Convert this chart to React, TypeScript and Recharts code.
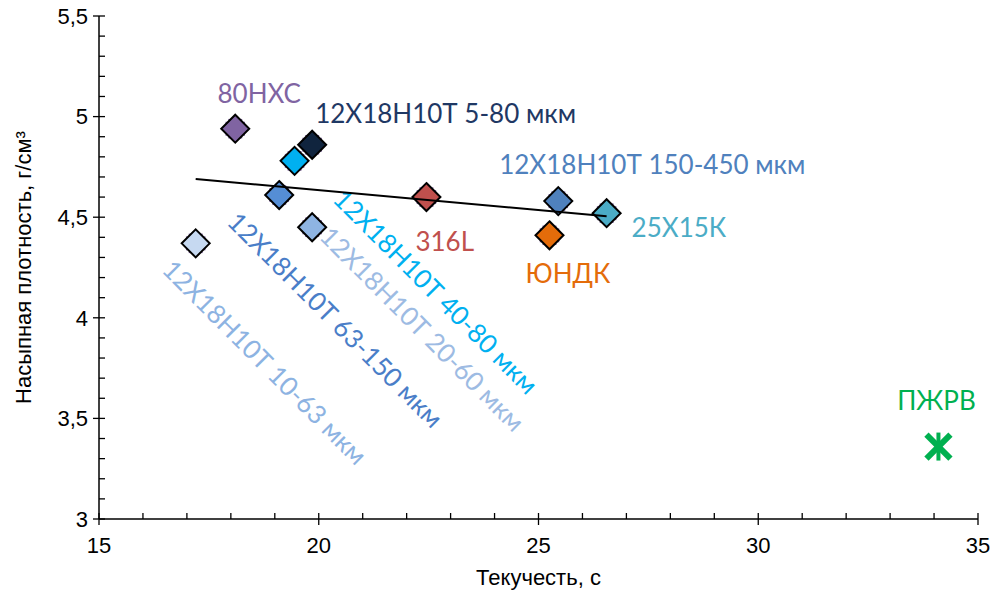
import { ScatterChart, Scatter, XAxis, YAxis } from "recharts";

// series, one point each
const seriesNames = [
  "80НХС",
  "12Х18Н10Т 5-80 мкм",
  "12Х18Н10Т 40-80 мкм",
  "12Х18Н10Т 63-150 мкм",
  "12Х18Н10Т 20-60 мкм",
  "12Х18Н10Т 10-63 мкм",
  "316L",
  "12Х18Н10Т 150-450 мкм",
  "ЮНДК",
  "25Х15К",
  "ПЖРВ",
];
const flowValues = [18.1, 19.85, 19.45, 19.1, 19.85, 17.2, 22.45, 25.45, 25.25, 26.55, 34.1];
const densityValues = [4.94, 4.86, 4.78, 4.61, 4.45, 4.37, 4.6, 4.58, 4.41, 4.52, 3.36];

// linear trend (over the diamonds)
const trendX = [17.2, 26.55];
const trendY = [4.69, 4.505];

const xTicks = [15, 16, 17, 18, 19, 20, 21, 22, 23, 24, 25, 26, 27, 28, 29, 30, 31, 32, 33, 34, 35];
const xMajor = [15, 20, 25, 30, 35];
const yTicks = [
  3, 3.1, 3.2, 3.3, 3.4, 3.5, 3.6, 3.7, 3.8, 3.9, 4, 4.1, 4.2, 4.3, 4.4, 4.5, 4.6, 4.7, 4.8, 4.9, 5, 5.1,
  5.2, 5.3, 5.4, 5.5,
];
const yMajor = [3, 3.5, 4, 4.5, 5, 5.5];

const markerColors = [
  "#8064A2", "#10243E", "#00B0F0", "#558ED5", "#8EB4E3", "#C6D9F1",
  "#C0504D", "#4F81BD", "#E46C0A", "#4BACC6", "#00B050",
];
const labelColors = [
  "#8064A2", "#1F3864", "#00B0F0", "#4A7EC8", "#9DBBE3", "#8DB3E2",
  "#C0504D", "#4F81BD", "#E46C0A", "#4BACC6", "#00B050",
];

// label placement relative to the point: dx, dy, anchor, rotation
const labelPlacement: Record<string, { dx: number; dy: number; anchor: string; rot: number }> = {
  "80НХС": { dx: 24, dy: -35, anchor: "middle", rot: 0 },
  "12Х18Н10Т 5-80 мкм": { dx: 3, dy: -31, anchor: "start", rot: 0 },
  "12Х18Н10Т 40-80 мкм": { dx: 141, dy: 131, anchor: "middle", rot: 45 },
  "12Х18Н10Т 63-150 мкм": { dx: 56, dy: 125, anchor: "middle", rot: 45 },
  "12Х18Н10Т 20-60 мкм": { dx: 110, dy: 102, anchor: "middle", rot: 45 },
  "12Х18Н10Т 10-63 мкм": { dx: 69, dy: 119, anchor: "middle", rot: 45 },
  "316L": { dx: -11, dy: 45, anchor: "start", rot: 0 },
  "12Х18Н10Т 150-450 мкм": { dx: 94, dy: -36, anchor: "middle", rot: 0 },
  "ЮНДК": { dx: -24, dy: 39, anchor: "start", rot: 0 },
  "25Х15К": { dx: 25, dy: 15, anchor: "start", rot: 0 },
  "ПЖРВ": { dx: -2, dy: -46, anchor: "middle", rot: 0 },
};

const tickFont = { fontFamily: "'Liberation Sans', Arial, sans-serif", fontSize: 22, fill: "#000" };
const labelFont = "Lato, 'Open Sans', sans-serif";

const fmt = (v: number) => String(v).replace(".", ",");

const XTick = (props: any) => {
  const { x, y, payload } = props;
  const major = xMajor.includes(payload.value);
  return (
    <g>
      <line x1={x} x2={x} y1={major ? y + 6 : y} y2={y - 6} stroke="#000" strokeWidth={1.3} />
      {major && (
        <text x={x} y={y + 34} textAnchor="middle" {...tickFont}>
          {payload.value}
        </text>
      )}
    </g>
  );
};

const YTick = (props: any) => {
  const { x, y, payload } = props;
  const v = Math.round(payload.value * 10) / 10;
  const major = yMajor.includes(v);
  return (
    <g>
      <line x1={major ? x - 6 : x} x2={x + 6} y1={y} y2={y} stroke="#000" strokeWidth={1.3} />
      {major && (
        <text x={x - 11} y={y} dy="0.35em" textAnchor="end" {...tickFont}>
          {fmt(v)}
        </text>
      )}
    </g>
  );
};

const PointShape = (props: any) => {
  const { cx, cy, fill, payload } = props;
  const p = labelPlacement[payload.name];
  const idx = seriesNames.indexOf(payload.name);
  const r = 14;
  const c = 9;
  const marker =
    payload.name === "ПЖРВ" ? (
      <g stroke={fill} strokeWidth={6} strokeLinecap="butt">
        <line x1={cx - 12} y1={cy - 12} x2={cx + 12} y2={cy + 12} />
        <line x1={cx - 12} y1={cy + 12} x2={cx + 12} y2={cy - 12} />
        <line x1={cx} y1={cy - 14} x2={cx} y2={cy + 14} strokeWidth={4} />
      </g>
    ) : (
      <g>
        <g stroke="#8064A2" strokeWidth={1.5}>
          <line x1={cx - 7} x2={cx + 7} y1={cy - c} y2={cy - c} />
          <line x1={cx - 7} x2={cx + 7} y1={cy + c} y2={cy + c} />
          <line x1={cx - c} x2={cx - c} y1={cy - 7} y2={cy + 7} />
          <line x1={cx + c} x2={cx + c} y1={cy - 7} y2={cy + 7} />
        </g>
        <path
          d={`M${cx},${cy - r} L${cx + r},${cy} L${cx},${cy + r} L${cx - r},${cy} Z`}
          fill={fill}
          stroke="#000"
          strokeWidth={2}
        />
      </g>
    );
  const lx = cx + p.dx;
  const ly = cy + p.dy;
  return (
    <g>
      {marker}
      <text
        x={lx}
        y={ly}
        dy="0.35em"
        textAnchor={p.anchor}
        fill={labelColors[idx]}
        fontFamily={labelFont}
        fontSize={26}
        transform={p.rot ? `rotate(${p.rot} ${lx} ${ly})` : undefined}
      >
        {payload.name}
      </text>
    </g>
  );
};

export default function App() {
  const trendData = trendX.map((x, i) => ({ x, y: trendY[i] }));
  return (
    <div style={{ position: "absolute", left: 0, top: 0, width: 998, height: 591, background: "#fff" }}>
      <ScatterChart width={998} height={591} margin={{ top: 16, right: 20, bottom: 0, left: 0 }}>
        <XAxis
          type="number"
          dataKey="x"
          domain={[15, 35]}
          ticks={xTicks}
          interval={0}
          tickSize={0}
          tickMargin={0}
          tickLine={false}
          axisLine={{ stroke: "#000", strokeWidth: 1.5 }}
          tick={<XTick />}
          height={72}
          allowDataOverflow
          label={{ value: "Текучесть, с", position: "insideBottom", offset: 6, ...tickFont }}
        />
        <YAxis
          type="number"
          dataKey="y"
          domain={[3, 5.5]}
          ticks={yTicks}
          interval={0}
          tickSize={0}
          tickMargin={0}
          tickLine={false}
          axisLine={{ stroke: "#000", strokeWidth: 1.5 }}
          tick={<YTick />}
          width={99}
          allowDataOverflow
          label={{
            value: "Насыпная плотность, г/см³",
            angle: -90,
            position: "insideLeft",
            offset: 23,
            style: { textAnchor: "middle" },
            ...tickFont,
          }}
        />
        {seriesNames.map((name, i) => (
          <Scatter
            key={name}
            name={name}
            data={[{ x: flowValues[i], y: densityValues[i], name }]}
            fill={markerColors[i]}
            shape={<PointShape />}
            isAnimationActive={false}
          />
        ))}
        <Scatter
          name="trend"
          data={trendData}
          line={{ stroke: "#000", strokeWidth: 2 }}
          shape={() => <g />}
          isAnimationActive={false}
        />
      </ScatterChart>
    </div>
  );
}
